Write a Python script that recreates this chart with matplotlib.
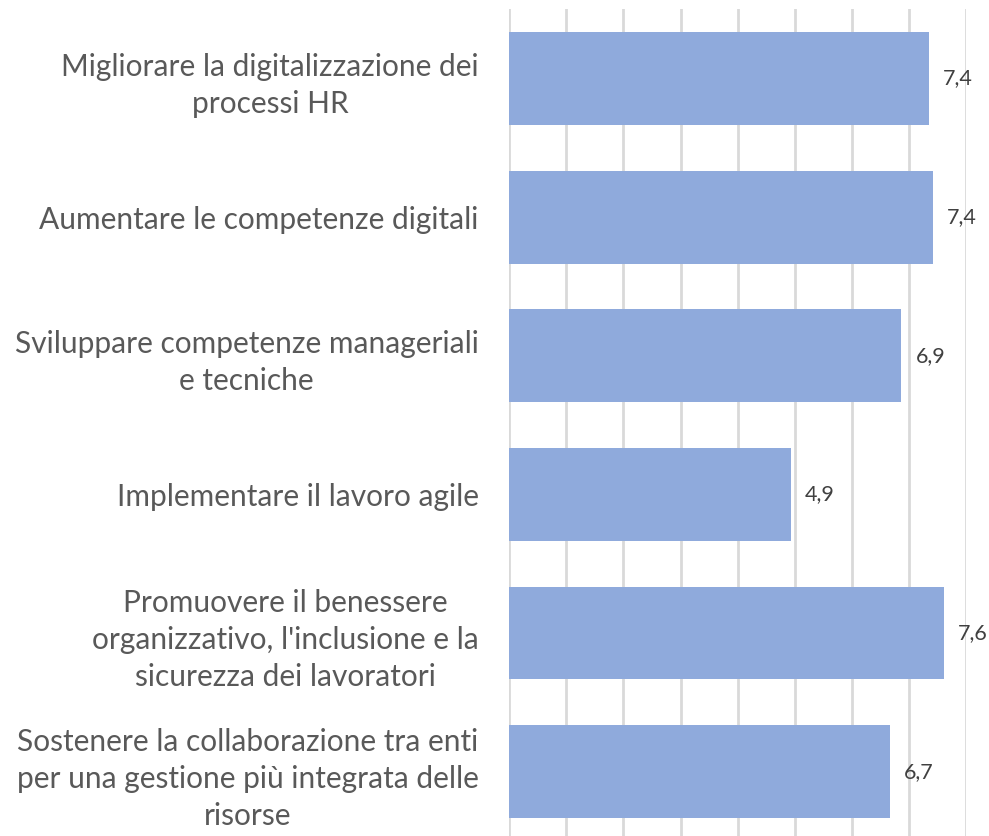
import numpy as np
import matplotlib
matplotlib.use("Agg")
import matplotlib.pyplot as plt

# data
categories = [
    "Migliorare la digitalizzazione dei\nprocessi HR",
    "Aumentare le competenze digitali",
    "Sviluppare competenze manageriali\ne tecniche",
    "Implementare il lavoro agile",
    "Promuovere il benessere\norganizzativo, l'inclusione e la\nsicurezza dei lavoratori",
    "Sostenere la collaborazione tra enti\nper una gestione più integrata delle\nrisorse",
]
values = [7.36, 7.43, 6.87, 4.93, 7.61, 6.66]

bar_color = "#8FAADC"
text_color = "#595959"
grid_color = "#D9D9D9"

plt.rcParams['font.family'] = ['Lato', 'DejaVu Sans']

W, H = 989, 836
fig = plt.figure(figsize=(W / 100, H / 100), dpi=100)
# axes box in pixels: x 509..966, y 9..841 (bottom runs past the image edge)
left, right, top, bottom = 509.3, 966.0, 9.2, 841.0
ax = fig.add_axes([left / W, 1 - bottom / H, (right - left) / W, (bottom - top) / H])

y = np.arange(len(categories))
ax.barh(y, values, height=0.67, color=bar_color, zorder=2)

ax.set_xlim(0, 8)
ax.set_ylim(len(categories) - 0.5, -0.5)
ax.set_xticks(np.arange(0, 9))
ax.set_xticklabels([])
ax.grid(axis='x', color=grid_color, linewidth=2, zorder=0)
ax.tick_params(axis='x', length=0)
ax.tick_params(axis='y', length=0, pad=22)
for s in ax.spines.values():
    s.set_visible(False)

ax.set_yticks(y)
ax.set_yticklabels(categories, fontsize=21.5, color=text_color,
                   multialignment='center', linespacing=1.4)

for yi, v in zip(y, values):
    ax.annotate(f"{v:.1f}".replace('.', ','), (v, yi), xytext=(10, 0),
                textcoords='offset points', va='center', ha='left',
                fontsize=15.5, color="#404040")

fig.savefig("out.png", dpi=100)
